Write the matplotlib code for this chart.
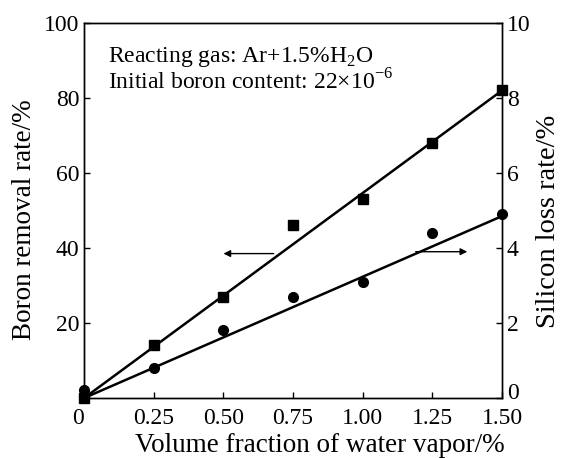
import matplotlib
matplotlib.use('Agg')
import matplotlib.pyplot as plt
from matplotlib.transforms import ScaledTranslation

plt.rcParams['font.family'] = ['Liberation Serif', 'DejaVu Serif']
plt.rcParams['mathtext.fontset'] = 'custom'
plt.rcParams['mathtext.rm'] = 'Liberation Serif'

# measured points
water_frac = [0, 0.25, 0.50, 0.75, 1.00, 1.25, 1.50]
boron_removal = [0, 14, 27, 46, 53, 68, 82]
silicon_loss = [0.2, 0.8, 1.8, 2.7, 3.1, 4.4, 4.9]

# fitted lines
fit_x = [0, 1.50]
boron_fit = [0, 82]
silicon_fit = [0, 4.85]

xticks = [0, 0.25, 0.50, 0.75, 1.00, 1.25, 1.50]
xticklabels = ['0', '0.25', '0.50', '0.75', '1.00', '1.25', '1.50']

fig = plt.figure(figsize=(5.61, 4.58), dpi=100)
ax = fig.add_axes([0.150, 0.131, 0.745, 0.819])
ax2 = ax.twinx()

ax.plot(fit_x, boron_fit, color='black', lw=1.8)
ax.plot(water_frac, boron_removal, 's', color='black', ms=6.5, clip_on=False, zorder=5)
ax2.plot(fit_x, silicon_fit, color='black', lw=1.8)
ax2.plot(water_frac, silicon_loss, 'o', color='black', ms=7, clip_on=False, zorder=5)

ax.set_xlim(0, 1.5)
ax.set_ylim(0, 100)
ax2.set_ylim(0, 10)

ax.set_xticks(xticks)
ax.set_xticklabels(xticklabels)
ax.get_xticklabels()[0].set_horizontalalignment('right')
ax.set_yticks([0, 20, 40, 60, 80, 100])
ax.set_yticklabels(['', '20', '40', '60', '80', '100'])
ax2.set_yticks([0, 2, 4, 6, 8, 10])

for a in (ax, ax2):
    a.tick_params(direction='in', length=4, width=1, labelsize=17)
    for s in a.spines.values():
        s.set_linewidth(1.0)
ax.tick_params(axis='x', pad=7)

# lift the right-hand "0" a little so it clears "1.50"
zero_lbl = ax2.get_yticklabels()[0]
zero_lbl.set_transform(zero_lbl.get_transform() + ScaledTranslation(0, 5 / 72, fig.dpi_scale_trans))

ax.set_xlabel('Volume fraction of water vapor/%', fontsize=19.5, labelpad=3)
ax.xaxis.label.set_x(0.565)
ax.set_ylabel('Boron removal rate/%', fontsize=19.5, labelpad=5)
ax.yaxis.label.set_y(0.475)
ax2.set_ylabel('Silicon loss rate/%', fontsize=20.5, labelpad=4)
ax2.yaxis.label.set_y(0.472)

# arrows pointing to the matching axis
ax.annotate('', xy=(0.49, 38.5), xytext=(0.69, 38.5),
            arrowprops=dict(arrowstyle='-|>', color='black', lw=1.0, mutation_scale=10))
ax2.annotate('', xy=(1.385, 3.9), xytext=(1.18, 3.9),
             arrowprops=dict(arrowstyle='-|>', color='black', lw=1.0, mutation_scale=10))

ax.text(0.057, 0.895, 'Reacting gas: Ar+1.5%H$_2$O', transform=ax.transAxes,
        fontsize=17, va='baseline')
ax.text(0.057, 0.822, 'Initial boron content: 22$\\times$10$^{-6}$', transform=ax.transAxes,
        fontsize=17, va='baseline')

fig.savefig('out.png', dpi=100)
plt.close()
